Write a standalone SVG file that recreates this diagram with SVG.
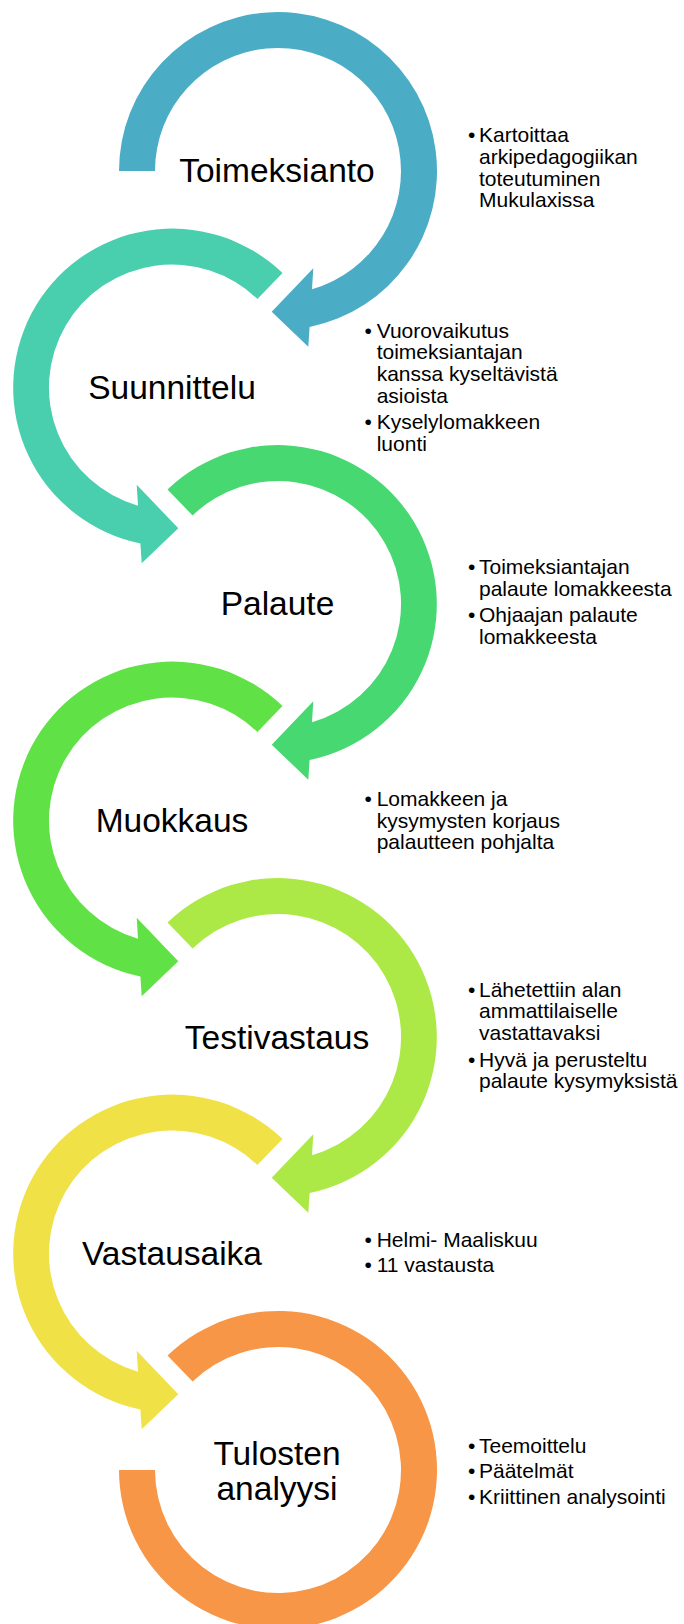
<svg xmlns="http://www.w3.org/2000/svg" width="684" height="1624" viewBox="0 0 684 1624">
<style>
.lbl{font-family:"Liberation Sans",Arial,sans-serif;font-size:33.5px;fill:#000;text-anchor:middle}
.t{font-family:"Liberation Sans",Arial,sans-serif;font-size:21px;fill:#000}
.b{font-family:"Liberation Sans",Arial,sans-serif;font-size:21px;fill:#000;text-anchor:middle}
</style>
<defs>
<path id="odd" d="M -110.5 -114.4 A 159 159 0 1 1 31.6 155.9 L 30.3 175.7 L -6.3 140.7 L 35.3 97.3 L 34 118.2 A 123 123 0 1 0 -85.4 -88.5 Z"/>
<path id="even" d="M 110.5 -114.4 A 159 159 0 1 0 -31.6 155.9 L -30.3 175.7 L 6.3 140.7 L -35.3 97.3 L -34 118.2 A 123 123 0 1 1 85.4 -88.5 Z"/>
</defs>
<rect width="684" height="1624" fill="#fff"/>
<g id="n1">
<path transform="translate(278,171)" fill="#4BACC6" d="M -159 0 A 159 159 0 1 1 31.6 155.9 L 30.3 175.7 L -6.3 140.7 L 35.3 97.3 L 34 118.2 A 123 123 0 1 0 -123 0 Z"/>
<text class="lbl" x="277" y="182">Toimeksianto</text>
<text class="b" x="471.7" y="142.3">•</text>
<text class="t" x="479" y="142.3">Kartoittaa</text>
<text class="t" x="479" y="164">arkipedagogiikan</text>
<text class="t" x="479" y="185.7">toteutuminen</text>
<text class="t" x="479" y="207.4">Mukulaxissa</text>
</g>
<g id="n2">
<use href="#even" transform="translate(172,387.5)" fill="#49CFAE"/>
<text class="lbl" x="172" y="398.5">Suunnittelu</text>
<text class="b" x="368.3" y="337.7">•</text>
<text class="t" x="376.7" y="337.7">Vuorovaikutus</text>
<text class="t" x="376.7" y="359.4">toimeksiantajan</text>
<text class="t" x="376.7" y="381.1">kanssa kyseltävistä</text>
<text class="t" x="376.7" y="402.8">asioista</text>
<text class="b" x="368.3" y="429.3">•</text>
<text class="t" x="376.7" y="429.3">Kyselylomakkeen</text>
<text class="t" x="376.7" y="451">luonti</text>
</g>
<g id="n3">
<use href="#odd" transform="translate(278,604)" fill="#47D872"/>
<text class="lbl" x="277.5" y="615">Palaute</text>
<text class="b" x="471.7" y="574">•</text>
<text class="t" x="479" y="574">Toimeksiantajan</text>
<text class="t" x="479" y="595.7">palaute lomakkeesta</text>
<text class="b" x="471.7" y="622.3">•</text>
<text class="t" x="479" y="622.3">Ohjaajan palaute</text>
<text class="t" x="479" y="644">lomakkeesta</text>
</g>
<g id="n4">
<use href="#even" transform="translate(172,820.5)" fill="#60E146"/>
<text class="lbl" x="172" y="832">Muokkaus</text>
<text class="b" x="368.3" y="806">•</text>
<text class="t" x="376.7" y="806">Lomakkeen ja</text>
<text class="t" x="376.7" y="827.7">kysymysten korjaus</text>
<text class="t" x="376.7" y="849.4">palautteen pohjalta</text>
</g>
<g id="n5">
<use href="#odd" transform="translate(278,1037)" fill="#ACE946"/>
<text class="lbl" x="277" y="1049">Testivastaus</text>
<text class="b" x="471.7" y="996.7">•</text>
<text class="t" x="479" y="996.7">Lähetettiin alan</text>
<text class="t" x="479" y="1018.4">ammattilaiselle</text>
<text class="t" x="479" y="1040.1">vastattavaksi</text>
<text class="b" x="471.7" y="1066.7">•</text>
<text class="t" x="479" y="1066.7">Hyvä ja perusteltu</text>
<text class="t" x="479" y="1088.4">palaute kysymyksistä</text>
</g>
<g id="n6">
<use href="#even" transform="translate(172,1253.5)" fill="#F0E146"/>
<text class="lbl" x="172" y="1265">Vastausaika</text>
<text class="b" x="368.3" y="1246.7">•</text>
<text class="t" x="376.7" y="1246.7">Helmi- Maaliskuu</text>
<text class="b" x="368.3" y="1272.3">•</text>
<text class="t" x="376.7" y="1272.3">11 vastausta</text>
</g>
<g id="n7">
<path transform="translate(278,1470)" fill="#F79646" d="M -110.5 -114.4 A 159 159 0 1 1 -159 0 L -123 0 A 123 123 0 1 0 -85.4 -88.5 Z"/>
<text class="lbl" x="277" y="1465">Tulosten</text>
<text class="lbl" x="277" y="1500">analyysi</text>
<text class="b" x="471.7" y="1452.7">•</text>
<text class="t" x="479" y="1452.7">Teemoittelu</text>
<text class="b" x="471.7" y="1478.3">•</text>
<text class="t" x="479" y="1478.3">Päätelmät</text>
<text class="b" x="471.7" y="1504">•</text>
<text class="t" x="479" y="1504">Kriittinen analysointi</text>
</g>
<g id="connectors"/>
</svg>
